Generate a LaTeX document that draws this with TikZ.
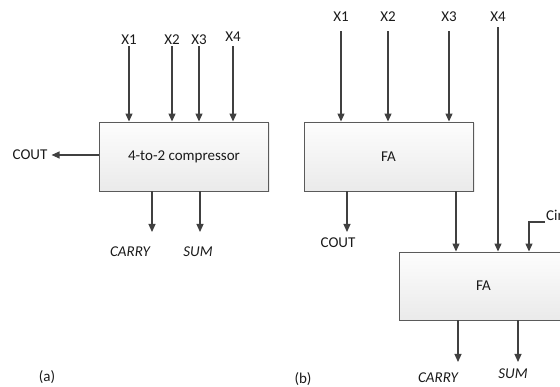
\documentclass[tikz,border=0pt]{standalone}
\usepackage{fontspec}
\setmainfont{Carlito}
\usetikzlibrary{arrows.meta,positioning,calc,shadows}
\definecolor{ink}{HTML}{1A1A1A}
\definecolor{wire}{HTML}{404040}
\definecolor{edge}{HTML}{5A5A5A}
\definecolor{topf}{HTML}{FDFDFD}
\definecolor{botf}{HTML}{EAEAEA}
\tikzset{
  blk/.style={draw=edge,line width=0.9pt,top color=topf,bottom color=botf,minimum width=169pt,minimum height=69pt,inner sep=0pt,font=\fontsize{15}{18}\selectfont,text=ink,drop shadow={opacity=0.15,shadow xshift=1.5pt,shadow yshift=-1.5pt}},
  sig/.style={-{Triangle[length=8pt,width=7pt]},line width=1.2pt,wire},
  bare/.style={line width=1.2pt,wire},
  lbl/.style={font=\fontsize{15}{18}\selectfont,inner sep=1pt,text=ink},
  olbl/.style={lbl,font=\fontsize{15}{18}\selectfont\itshape}
}

\begin{document}
\begin{tikzpicture}[x=1pt,y=-1pt]
\clip (0,0) rectangle (560,387);
\path[use as bounding box] (0,0) rectangle (560,387);
% (a) one 4-to-2 block
\node[blk] (cmp) at (184,156.5) {4-to-2 compressor};
\node[lbl] (x1a) at (129,40) {X1};\node[lbl] (x2a) at (172,40) {X2};
\node[lbl] (x3a) at (199,40) {X3};\node[lbl] (x4a) at (233,37) {X4};
\draw[sig] (x1a) -- (x1a |- cmp.north);
\draw[sig] (x2a) -- (x2a |- cmp.north);
\draw[sig] (x3a) -- (x3a |- cmp.north);
\draw[sig] ([yshift=-3pt]x4a.south) -- (x4a |- cmp.north);
\node[lbl] (couta) at (30,155) {COUT};
\draw[sig] (cmp.west |- couta) -- ([xshift=3pt]couta.east);
\coordinate (ca) at (152,232);\coordinate (sa) at (200,232);
\draw[sig] (cmp.south -| ca) -- (ca);
\draw[sig] (cmp.south -| sa) -- (sa);
\node[olbl] (carrya) at (130,252) {CARRY};\node[olbl] (suma) at (198,252) {SUM};
\node[lbl] (capa) at (47,377) {(a)};
% (b) two full adders in a chain
\node[blk] (fa1) at (388.5,156.5) {FA};
\node[blk,minimum height=68pt] (fa2) at (483.5,286) {FA};
\node[lbl] (x1b) at (341,17) {X1};\node[lbl] (x2b) at (388,17) {X2};
\node[lbl] (x3b) at (449,17) {X3};\node[lbl] (x4b) at (498,17) {X4};
\draw[sig] ([yshift=-8pt]x1b.south) -- (x1b |- fa1.north);
\draw[sig] ([yshift=-8pt]x2b.south) -- (x2b |- fa1.north);
\draw[sig] ([yshift=-8pt]x3b.south) -- (x3b |- fa1.north);
\draw[sig] ([yshift=-4pt]x4b.south) -- (x4b |- fa2.north);
\coordinate (cob) at (347,232);
\draw[sig] (fa1.south -| cob) -- (cob);
\node[lbl] (coutb) at (338,243) {COUT};
\coordinate (link) at (456,220);
\draw[sig] (fa1.south -| link) -- (fa2.north -| link);
\node[lbl,anchor=south west] (cin) at (545,222) {Cin};
\coordinate (cinx) at (529,240);
\draw[sig] (cin.south west) -| (cinx |- fa2.north);
\coordinate (cb) at (458,362);\coordinate (sb) at (518,362);
\draw[sig] (fa2.south -| cb) -- (cb);
\draw[sig] (fa2.south -| sb) -- (sb);
\node[olbl] (carryb) at (438,378) {CARRY};\node[olbl] (sumb) at (513,374) {SUM};
\node[lbl] (capb) at (303,379) {(b)};
\end{tikzpicture}
\end{document}
